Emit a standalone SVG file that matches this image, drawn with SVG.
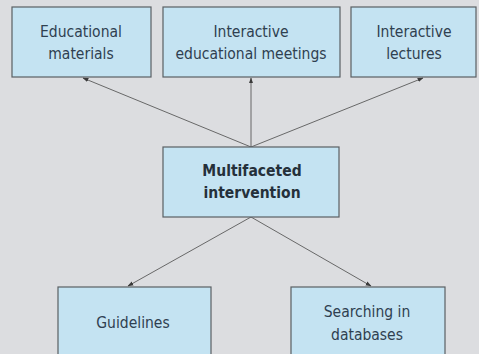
<svg xmlns="http://www.w3.org/2000/svg" width="479" height="354" viewBox="0 0 479 354">
<style>
.box{fill:#c4e3f2;stroke:#5a5f63;stroke-width:1.2}
.t{font-family:"DejaVu Sans Condensed","DejaVu Sans",sans-serif;font-size:15.5px;fill:#2f4050;text-anchor:middle}
.b{font-weight:bold;fill:#25303a}
.c{stroke:#5a5a5a;stroke-width:0.9;fill:none;marker-end:url(#ah)}
</style>
<defs>
<marker id="ah" viewBox="0 0 10 10" refX="9" refY="5" markerWidth="6" markerHeight="6" orient="auto" markerUnits="userSpaceOnUse">
<path d="M0,1.5 L10,5 L0,8.5 z" fill="#3a3a3a"/>
</marker>
</defs>
<rect width="479" height="354" fill="#dcdde0"/>
<g id="connectors">
<line class="c" x1="251" y1="147" x2="83" y2="78"/>
<line class="c" x1="251" y1="147" x2="251" y2="78"/>
<line class="c" x1="251" y1="147" x2="423" y2="78"/>
<line class="c" x1="251" y1="217" x2="128" y2="286"/>
<line class="c" x1="251" y1="217" x2="371" y2="286"/>
</g>
<g id="n-educational-materials">
<rect class="box" x="12" y="7" width="139" height="70"/>
<text class="t" x="81" y="37">Educational</text>
<text class="t" x="81" y="59">materials</text>
</g>
<g id="n-interactive-meetings">
<rect class="box" x="163" y="7" width="177" height="70"/>
<text class="t" x="251" y="37">Interactive</text>
<text class="t" x="251" y="59">educational meetings</text>
</g>
<g id="n-interactive-lectures">
<rect class="box" x="351" y="7" width="125" height="70"/>
<text class="t" x="414" y="37">Interactive</text>
<text class="t" x="414" y="59">lectures</text>
</g>
<g id="n-multifaceted">
<rect class="box" x="163" y="147" width="176" height="70"/>
<text class="t b" x="252" y="176">Multifaceted</text>
<text class="t b" x="252" y="198">intervention</text>
</g>
<g id="n-guidelines">
<rect class="box" x="58" y="287" width="153" height="75"/>
<text class="t" x="133" y="328">Guidelines</text>
</g>
<g id="n-searching">
<rect class="box" x="291" y="287" width="154" height="75"/>
<text class="t" x="367" y="317">Searching in</text>
<text class="t" x="367" y="340">databases</text>
</g>
</svg>
